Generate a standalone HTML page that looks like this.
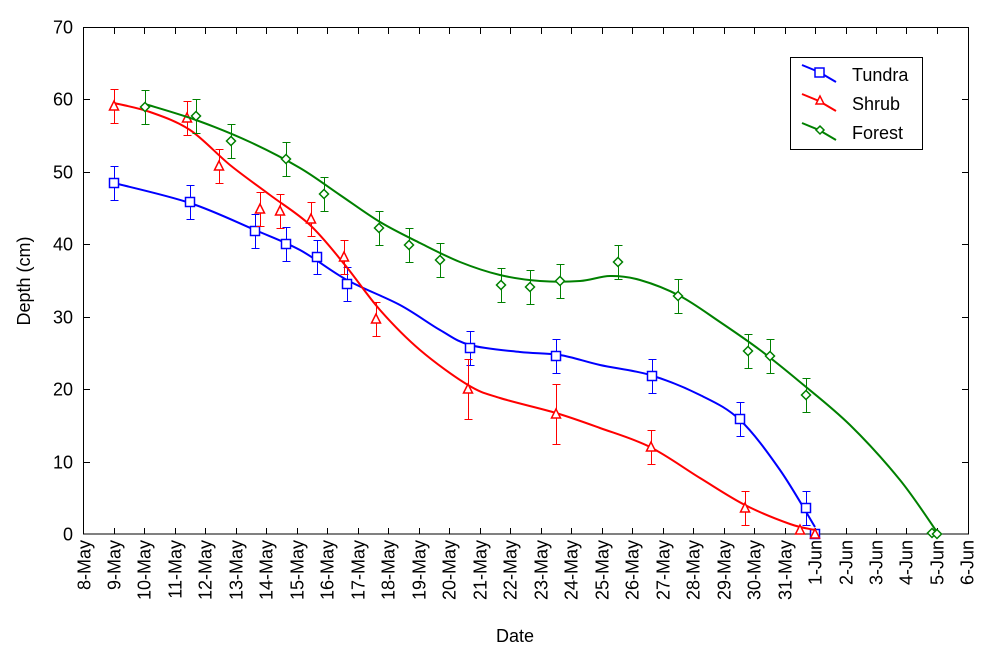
<!DOCTYPE html><html><head><style>body{margin:0;background:#fff}svg{display:block}text{font-family:"Liberation Sans",Arial,sans-serif;font-size:18px;fill:#000}</style></head><body>
<svg id="s" width="999" height="659" xmlns="http://www.w3.org/2000/svg">
<rect x="83.5" y="27.5" width="885" height="506.5" fill="none" stroke="#000" stroke-width="1" shape-rendering="crispEdges"/>
<g id="ax" shape-rendering="crispEdges"></g><g id="dat"></g>
<text x="515" y="642" text-anchor="middle">Date</text>
<text transform="translate(30,281) rotate(-90)" text-anchor="middle">Depth (cm)</text>
<rect x="790.5" y="57.5" width="132" height="92" fill="#fff" stroke="#000" shape-rendering="crispEdges"/>
<polyline points="802,65 819,72 836,82" fill="none" stroke="#00f" stroke-width="2"/><rect x="815" y="68" width="9" height="9" fill="#fff" stroke="#00f" stroke-width="1.5"/>
<polyline points="802,94 819,101 836,111" fill="none" stroke="#f00" stroke-width="2"/><polygon points="820,96 816,104 824,104" fill="#fff" stroke="#f00" stroke-width="1.5"/>
<polyline points="802,123 819,130 836,140" fill="none" stroke="#008000" stroke-width="2"/><polygon points="820,126 824,130 820,134 816,130" fill="#fff" stroke="#008000" stroke-width="1.5"/>
<text x="852" y="81">Tundra</text><text x="852" y="110">Shrub</text><text x="852" y="139">Forest</text>
</svg>
<script>
var NS="http://www.w3.org/2000/svg",ax=document.getElementById("ax"),dg=document.getElementById("dat");
function el(p,t,a,txt){var e=document.createElementNS(NS,t);for(var k in a)e.setAttribute(k,a[k]);if(txt)e.textContent=txt;p.appendChild(e);return e;}
for(var i=0;i<=7;i++){var y=Math.round(534-i*72.43)+0.5;el(ax,"text",{x:73,y:y+6,"text-anchor":"end"},""+i*10);
 if(i>0&&i<7){el(ax,"line",{x1:84,x2:90,y1:y,y2:y,stroke:"#000"});el(ax,"line",{x1:962,x2:968,y1:y,y2:y,stroke:"#000"});}}
var lab=["8-May","9-May","10-May","11-May","12-May","13-May","14-May","15-May","16-May","17-May","18-May","19-May","20-May","21-May","22-May","23-May","24-May","25-May","26-May","27-May","28-May","29-May","30-May","31-May","1-Jun","2-Jun","3-Jun","4-Jun","5-Jun","6-Jun"];
for(var i=0;i<30;i++){var x=Math.round(83.5+i*30.48)+0.5;if(i>0&&i<29){el(ax,"line",{x1:x,x2:x,y1:534,y2:528,stroke:"#000"});el(ax,"line",{x1:x,x2:x,y1:28,y2:34,stroke:"#000"});}
 el(ax,"text",{transform:"translate("+(x+6)+",540) rotate(-90)","text-anchor":"end"},lab[i]);}
function cr(p){var d="M"+p[0][0]+","+p[0][1];for(var i=0;i<p.length-1;i++){var a=p[i-1]||p[i],b=p[i],c=p[i+1],e=p[i+2]||c;
 d+=" C"+(b[0]+(c[0]-a[0])/6)+","+(b[1]+(c[1]-a[1])/6)+" "+(c[0]-(e[0]-b[0])/6)+","+(c[1]-(e[1]-b[1])/6)+" "+c[0]+","+c[1];}return d;}
var S=[{c:"#00f",m:"sq",curve:[[114,183],[190,203],[255,230],[300,250],[347,280],[400,305],[440,330],[470,345],[520,352],[560,355],[600,365],[650,375],[700,395],[740,420],[780,470],[815,527]],
 pts:[[114,183],[190,202],[255,231],[286,244],[317,257],[347,284],[470,348],[556,356],[652,376],[740,419],[806,508],[815,534]]},
{c:"#f00",m:"tr",curve:[[114,103],[150,112],[190,130],[230,165],[270,195],[310,225],[345,265],[380,310],[420,350],[468,385],[500,398],[556,413],[600,428],[650,447],[700,478],[745,505],[790,524],[815,530]],
 pts:[[114,106],[187,118],[219,166],[260,209],[280,211],[311,219],[344,257],[376,319],[468,389],[556,414],[651,447],[745,508],[800,530],[815,534]]},
{c:"#008000",m:"di",curve:[[145,104],[196,120],[250,142],[300,168],[340,195],[380,222],[420,243],[460,262],[500,275],[540,281],[580,281],[610,276],[640,280],[680,296],[720,322],[760,350],[800,382],[850,425],[900,480],[937,532]],
 pts:[[145,107],[196,116],[231,141],[286,159],[324,194],[379,228],[409,245],[440,260],[501,285],[530,287],[560,281],[618,262],[678,296],[748,351],[770,356],[806,395],[932,533],[937,534]]}];
S.forEach(function(s){el(dg,"path",{d:cr(s.curve),fill:"none",stroke:s.c,"stroke-width":2});
 s.pts.forEach(function(p){var x=p[0],y=p[1],e=p[1]>525?0:(s.m=="tr"&&y>380&&y<420?30:17);
  var xx=x+0.5;
  if(e){var g=el(dg,"g",{"shape-rendering":"crispEdges"});el(g,"line",{x1:xx,x2:xx,y1:y-e,y2:Math.min(534,y+e),stroke:s.c});el(g,"line",{x1:xx-4,x2:xx+4,y1:y-e+0.5,y2:y-e+0.5,stroke:s.c});el(g,"line",{x1:xx-4,x2:xx+4,y1:Math.min(534,y+e)+0.5,y2:Math.min(534,y+e)+0.5,stroke:s.c});}
  if(s.m=="sq")el(dg,"rect",{x:x-4.5,y:y-4.5,width:9,height:9,fill:"#fff",stroke:s.c,"stroke-width":1.5});
  else if(s.m=="tr")el(dg,"polygon",{points:x+","+(y-5)+" "+(x-4.5)+","+(y+4)+" "+(x+4.5)+","+(y+4),fill:"#fff",stroke:s.c,"stroke-width":1.5});
  else el(dg,"polygon",{points:x+","+(y-4.5)+" "+(x+4.5)+","+y+" "+x+","+(y+4.5)+" "+(x-4.5)+","+y,fill:"#fff",stroke:s.c,"stroke-width":1.5});});});
</script></body></html>
